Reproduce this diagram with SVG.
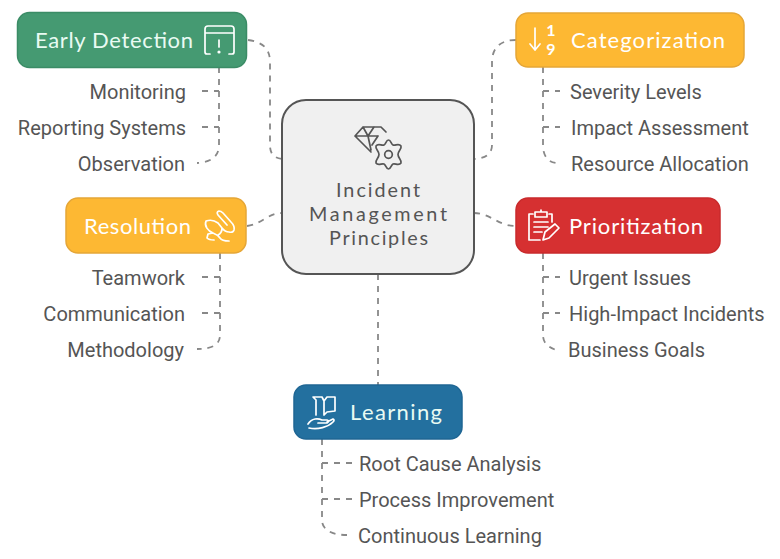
<svg xmlns="http://www.w3.org/2000/svg" width="780" height="559" viewBox="0 0 780 559">
<style>
.bg{fill:#fff}
.c{fill:none;stroke:#888;stroke-width:1.8;stroke-dasharray:6 6}
.h{font-family:"Lato","Open Sans",sans-serif;font-size:22px;fill:#fff;font-weight:400}
.m{font-family:"Lato","Open Sans",sans-serif;font-size:19.8px;fill:#555}
.t{font-family:"Roboto","Liberation Sans",sans-serif;font-size:20px;fill:#555}
.i{fill:none;stroke:#fff;stroke-width:1.7;stroke-linecap:round;stroke-linejoin:round}
.g{fill:none;stroke:#555;stroke-width:1.7;stroke-linecap:round;stroke-linejoin:round}
.box{stroke-width:1.5}
</style>
<rect class="bg" width="780" height="559"/>
<g id="connectors">
<path class="c" d="M248 40C262 42 270 48 270 62V145C270 154 274 158 282 159"/>
<path class="c" d="M219 67V145C219 156 212 162 197 163M202 91H219M202 127H219"/>
<path class="c" d="M516 40C500 40 492 48 492 62V145C492 154 486 158 474 159"/>
<path class="c" d="M543 67V145C543 156 548 162 556 163M543 91H560M543 127H560"/>
<path class="c" d="M247 226C262 224 268 213 282 213"/>
<path class="c" d="M474 213C490 213 498 226 516 226"/>
<path class="c" d="M220 253V335C220 345 212 349 197 349M202 277H220M202 313H220"/>
<path class="c" d="M543 253V335C543 343 548 347 556 350M543 277H560M543 313H560"/>
<path class="c" d="M378 274V385"/>
<path class="c" d="M322 439V520C322 530 332 535 347 535M322 463H352M322 499H352"/>
</g>
<g id="center">
<rect x="282" y="100" width="192" height="174" rx="24" fill="#f0f0f0" stroke="#555" stroke-width="2"/>
<path class="g" d="M371 152L355 136L363 127H381L386 132M355 136H378M363 127L368 136L371 150M374 127L368 136M378 136L372 145"/>
<path class="g" d="M388.500 140C391 140 391 144 393 145C395 146 399 143 401 146C402 149 398 151 398 154.500C398 158 402 160 401 163C399 166 395 163 393 164C391 165 391 169 388.500 169C386 169 386 165 384 164C382 163 378 166 376 163C375 160 379 158 379 154.500C379 151 375 149 376 146C378 143 382 146 384 145C386 144 386 140 388.500 140Z"/>
<circle class="g" cx="388.500" cy="154.500" r="3.800"/>
<text class="m" x="336" y="197" textLength="84" lengthAdjust="spacing">Incident</text>
<text class="m" x="309" y="221" textLength="138" lengthAdjust="spacing">Management</text>
<text class="m" x="329" y="245" textLength="99" lengthAdjust="spacing">Principles</text>
</g>
<g id="early-detection">
<rect class="box" x="17.5" y="12.5" width="229" height="55" rx="12" fill="#459a72" stroke="#3b8c66"/>
<text class="h" x="35" y="48" textLength="158" lengthAdjust="spacing" style="fill:#e9fbf3">Early Detection</text>
<path class="i" d="M210 54H207Q205 54 205 52V29Q205 26 208 26H231Q234 26 234 29V52Q234 54 232 54H229M205 33H234M219 40V47"/>
<circle cx="219" cy="52" r="1.6" fill="#fff"/>
<text class="t" x="186" y="99" text-anchor="end">Monitoring</text>
<text class="t" x="186" y="135" text-anchor="end">Reporting Systems</text>
<text class="t" x="185" y="171" text-anchor="end">Observation</text>
</g>
<g id="categorization">
<rect class="box" x="516" y="13" width="228" height="54" rx="12" fill="#fdb833" stroke="#e5a637"/>
<path class="i" d="M535 28V50M530 44L535 50L540 44" stroke-width="2"/>
<text x="551" y="36" text-anchor="middle" font-family="Lato,sans-serif" font-size="16" font-weight="700" fill="#fff">1</text>
<text x="551" y="55" text-anchor="middle" font-family="Lato,sans-serif" font-size="16" font-weight="700" fill="#fff">9</text>
<text class="h" x="571" y="48" textLength="154" lengthAdjust="spacing">Categorization</text>
<text class="t" x="570" y="99">Severity Levels</text>
<text class="t" x="571" y="135">Impact Assessment</text>
<text class="t" x="571" y="171">Resource Allocation</text>
</g>
<g id="resolution">
<rect class="box" x="66" y="198" width="180" height="55" rx="12" fill="#fdb833" stroke="#e5a637"/>
<text class="h" x="84" y="234" textLength="107" lengthAdjust="spacing">Resolution</text>
<path class="i" d="M218 215Q216 212 219 211Q221 211 223 213L231 222Q235 226 234 230Q233 233 229 232Q225 232 222 228L218 223C214 220 209 220 206 221C204 226 208 231 213 233Q218 235 220 238Q222 241 229 241M218 215L227 225M213 233L208 234L207 238Q209 240 214 240M222 228Q222 233 218 235"/>
<text class="t" x="185" y="285" text-anchor="end">Teamwork</text>
<text class="t" x="185" y="321" text-anchor="end">Communication</text>
<text class="t" x="184" y="357" text-anchor="end">Methodology</text>
</g>
<g id="prioritization">
<rect class="box" x="516" y="198" width="204" height="55" rx="12" fill="#d63031" stroke="#c92a2c"/>
<path class="i" d="M533 214H529V240H540M549 214H552V222M535 212H547V217H535ZM541 212V210M534 222H548M534 227H548M534 232H542"/>
<path class="i" d="M543 240L545 232L555 224L559 228L549 238Z"/>
<text class="h" x="569" y="234" textLength="134" lengthAdjust="spacing">Prioritization</text>
<text class="t" x="569" y="285">Urgent Issues</text>
<text class="t" x="569" y="321">High-Impact Incidents</text>
<text class="t" x="568" y="357">Business Goals</text>
</g>
<g id="learning">
<rect class="box" x="294" y="385" width="168" height="54" rx="12" fill="#23709f" stroke="#1f6694"/>
<path class="i" d="M316 415V400L313 397H322L324 401L327 397H335V411L327 412L324 415M324 401V415" stroke-width="1.500"/>
<path class="i" d="M308 424C312 418 318 418 322 420H327Q330 421 327 423H318M327 422L333 419Q335 420 333 422C328 427 318 430 309 428" stroke-width="1.500"/>
<text class="h" x="350" y="420" textLength="92" lengthAdjust="spacing" style="fill:#e9fbf3">Learning</text>
<text class="t" x="359" y="471">Root Cause Analysis</text>
<text class="t" x="359" y="507">Process Improvement</text>
<text class="t" x="358" y="543">Continuous Learning</text>
</g>
</svg>
